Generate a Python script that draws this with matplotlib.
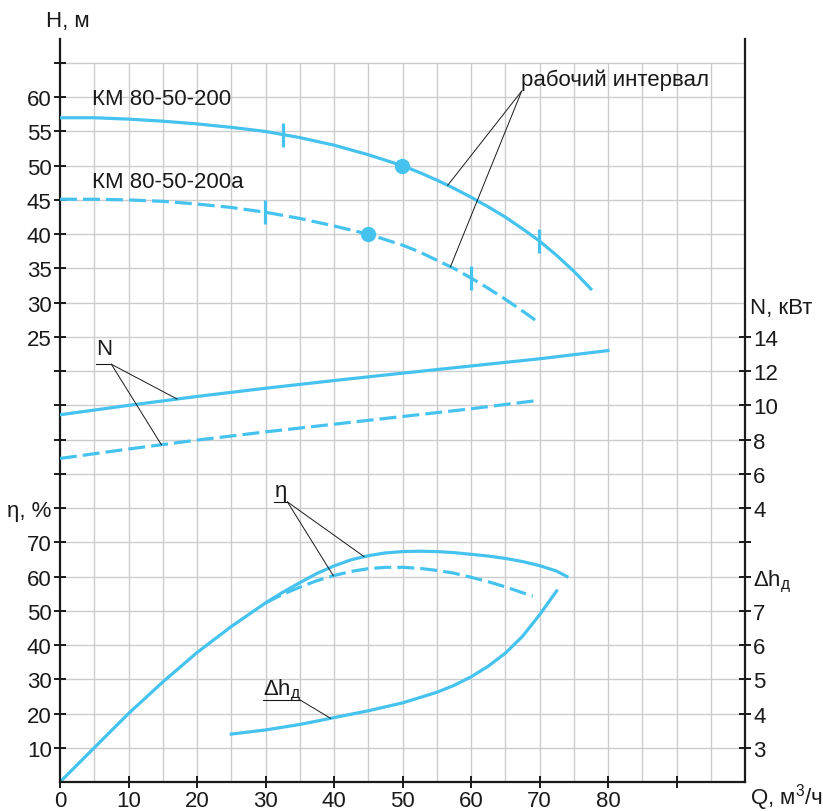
import numpy as np
import matplotlib
matplotlib.use('Agg')
import matplotlib.pyplot as plt

plt.rcParams['font.family'] = ['Liberation Sans', 'DejaVu Sans']
plt.rcParams['mathtext.fontset'] = 'custom'
plt.rcParams['mathtext.rm'] = 'Liberation Sans'
plt.rcParams['mathtext.it'] = 'Liberation Sans'

# ---- данные ----
# напор H, м
q_h1 = [0, 5, 10, 15, 20, 25, 30, 35, 40, 45, 50, 52.5, 55, 57.5, 60, 62.5,
        65, 67.5, 70, 72.5, 75, 77.5]
h1 = [57.0, 57.0, 56.8, 56.5, 56.1, 55.6, 55.0, 54.1, 53.0, 51.6, 50.0, 49.0,
      47.9, 46.7, 45.4, 44.0, 42.5, 40.8, 39.0, 36.9, 34.6, 32.0]
q_h2 = [0, 5, 10, 15, 20, 25, 30, 35, 40, 45, 50, 52.5, 55, 57.5, 60, 62.5,
        65, 67.5, 70]
h2 = [45.1, 45.1, 45.0, 44.8, 44.4, 43.9, 43.2, 42.3, 41.2, 40.0, 38.4, 37.4,
      36.2, 35.0, 33.6, 32.1, 30.5, 28.8, 27.0]
# рабочий интервал и номинальная точка
q_int1, q_nom1 = [32.5, 70], 50
q_int2, q_nom2 = [30, 60], 45

# мощность N, кВт
q_n1 = [0, 10, 20, 30, 40, 50, 60, 70, 80]
n1 = [9.45, 10.0, 10.52, 11.0, 11.45, 11.88, 12.3, 12.72, 13.2]
q_n2 = [0, 10, 20, 30, 40, 50, 60, 70]
n2 = [6.9, 7.45, 7.97, 8.45, 8.9, 9.35, 9.8, 10.3]

# КПД, %
q_e1 = [0, 5, 10, 15, 20, 25, 30, 32.5, 35, 37.5, 40, 42.5, 45, 47.5, 50,
        52.5, 55, 57.5, 60, 62.5, 65, 67.5, 70, 72.5, 74]
eta1 = [0, 10, 20, 29.2, 37.8, 45.4, 52.3, 55.4, 58.2, 60.9, 63.1, 64.9, 66.1,
        66.9, 67.3, 67.4, 67.3, 67.0, 66.5, 66.0, 65.3, 64.4, 63.2, 61.6, 60.0]
q_e2 = [30, 32.5, 35, 37.5, 40, 42.5, 45, 47.5, 50, 52.5, 55, 57.5, 60, 62.5,
        65, 67.5, 69]
eta2 = [52.3, 54.8, 56.9, 58.8, 60.3, 61.5, 62.3, 62.7, 62.7, 62.4, 61.8,
        61.0, 59.8, 58.5, 57.0, 55.3, 54.3]

# допустимый кавитационный запас
q_d = [25, 30, 35, 40, 45, 50, 55, 57.5, 60, 62.5, 65, 67.5, 70, 72.5]
dh = [3.40, 3.52, 3.68, 3.88, 4.08, 4.31, 4.62, 4.82, 5.07, 5.38, 5.76, 6.25,
      6.88, 7.58]

q_ticks = list(range(0, 100, 10))
q_labels = [str(v) for v in range(0, 90, 10)] + ['']

BLUE = '#45c3ee'
INK = '#1a1a1a'
FS = 16

fig = plt.figure(figsize=(8.23, 8.12), dpi=100)
ax = fig.add_axes([60 / 823, 29 / 812, 685 / 823, 743 / 812])
ax.set_xlim(0, 100)
eta_top = 217.0
ax.set_ylim(0, eta_top)

# сетка
ax.vlines(np.arange(5, 100, 5), 0, 210, color='#cccccc', lw=1, zorder=0)
ax.hlines(np.arange(10, 220, 10), 0, 100, color='#cccccc', lw=1, zorder=0)

for s in ['left', 'bottom', 'right']:
    ax.spines[s].set_color(INK)
    ax.spines[s].set_linewidth(1.6)
ax.spines['top'].set_visible(False)

ax.set_xticks(q_ticks)
ax.set_xticklabels(q_labels)
ax.set_yticks(range(10, 90, 10))
ax.set_yticklabels([str(v) for v in range(10, 80, 10)] + ['η, %'])
ax.tick_params(axis='both', direction='inout', length=8, width=1.4,
               colors=INK, labelsize=FS, pad=2)
ax.tick_params(axis='x', pad=2)

# оси для H, N, Δh
axH = ax.twinx()
axH.set_ylim(-40, (eta_top - 80) / 2)
axH.yaxis.tick_left()
axH.set_yticks(range(5, 70, 5))
axH.set_yticklabels(['' if v < 25 or v > 60 else str(v) for v in range(5, 70, 5)])

axN = ax.twinx()
axN.set_ylim(-12, (eta_top - 60) / 5)
axN.set_yticks(range(2, 16, 2))
axN.set_yticklabels([''] + [str(v) for v in range(4, 16, 2)])

axD = ax.twinx()
axD.set_ylim(2, eta_top / 10 + 2)
axD.set_yticks(range(3, 9))
axD.set_yticklabels([str(v) for v in range(3, 8)] + ['Δh$_{д}$'])

for a in (axH, axN, axD):
    for s in a.spines.values():
        s.set_visible(False)
    a.tick_params(axis='y', direction='inout', length=8, width=1.4,
                  colors=INK, labelsize=FS, pad=2)

dash = (5.3, 1.9)
lw = 2.3
# H
axH.plot(q_h1, h1, color=BLUE, lw=lw, solid_joinstyle='round')
axH.plot(q_h2, h2, color=BLUE, lw=lw, dashes=dash)
axH.plot(q_int1, np.interp(q_int1, q_h1, h1), ls='none', marker='|',
         ms=17, mew=2.3, color=BLUE)
axH.plot(q_int2, np.interp(q_int2, q_h2, h2), ls='none', marker='|',
         ms=17, mew=2.3, color=BLUE)
axH.plot([q_nom1], [np.interp(q_nom1, q_h1, h1)], 'o', ms=10, color=BLUE)
axH.plot([q_nom2], [np.interp(q_nom2, q_h2, h2)], 'o', ms=10, color=BLUE)
# N
axN.plot(q_n1, n1, color=BLUE, lw=lw)
axN.plot(q_n2, n2, color=BLUE, lw=lw, dashes=dash)
# КПД
ax.plot(q_e1, eta1, color=BLUE, lw=lw, solid_joinstyle='round')
ax.plot(q_e2, eta2, color=BLUE, lw=lw, dashes=dash)
# Δh
axD.plot(q_d, dh, color=BLUE, lw=lw, solid_joinstyle='round')

# подписи
axH.text(4.7, 59.8, 'КМ 80-50-200', fontsize=FS, color=INK, va='center')
axH.text(4.7, 47.7, 'КМ 80-50-200а', fontsize=FS, color=INK, va='center')
axH.text(67.3, 62.6, 'рабочий интервал', fontsize=FS, color=INK, va='center')
o = (67.4, 60.9)
for qq, qs, hs in [(56.6, q_h1, h1), (57.0, q_h2, h2)]:
    axH.plot([o[0], qq], [o[1], np.interp(qq, qs, hs)], color=INK, lw=0.7)

axN.text(5.3, 13.3, 'N', fontsize=FS, color=INK, va='center')
axN.plot([5.3, 7.5], [12.4, 12.4], color=INK, lw=0.8)
for qq, qs, ns in [(17.1, q_n1, n1), (14.8, q_n2, n2)]:
    axN.plot([7.5, qq], [12.4, np.interp(qq, qs, ns)], color=INK, lw=0.7)

ax.text(31.3, 85.0, 'η', fontsize=FS, color=INK, va='center')
ax.plot([31.3, 33.2], [81.8, 81.8], color=INK, lw=0.8)
for qq, qs, es in [(44.4, q_e1, eta1), (39.9, q_e2, eta2)]:
    ax.plot([33.2, qq], [81.8, np.interp(qq, qs, es)], color=INK, lw=0.7)

axD.text(29.7, 4.7, 'Δh$_{д}$', fontsize=FS, color=INK, va='center')
axD.plot([29.7, 35.1], [4.39, 4.39], color=INK, lw=0.8)
axD.plot([35.1, 39.5], [4.39, np.interp(39.5, q_d, dh)], color=INK, lw=0.7)

# названия осей
ax.text(1.2, 222.5, 'H, м', fontsize=FS, color=INK, ha='center', va='center',
        clip_on=False)
axN.text(100.7, 15.7, 'N, кВт', fontsize=FS, color=INK, ha='left',
         va='center', clip_on=False)
ax.text(100.7, -4.2, 'Q, м$^3$/ч', fontsize=FS, color=INK, ha='left',
        va='center', clip_on=False)

fig.savefig('out.png', dpi=100)
